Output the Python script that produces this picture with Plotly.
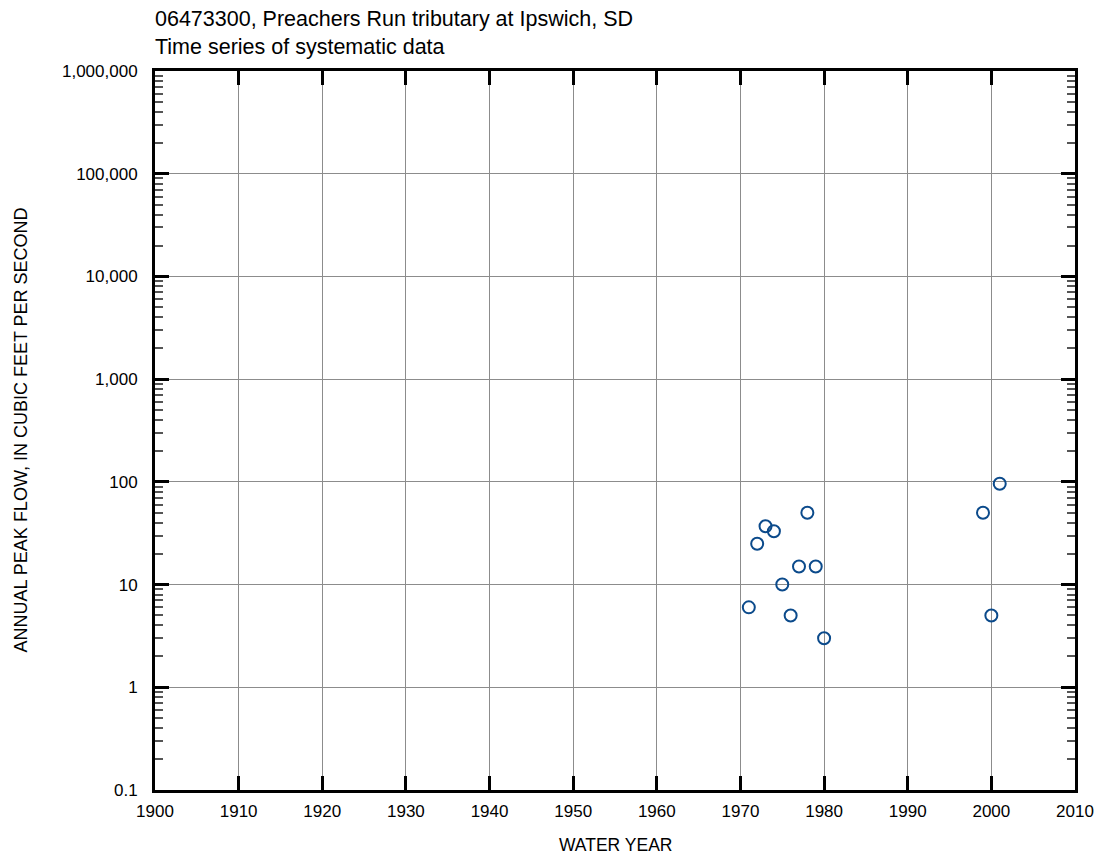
import plotly.graph_objects as go

years = [1971, 1972, 1973, 1974, 1975, 1976, 1977, 1978, 1979, 1980, 1999, 2000, 2001]
peaks = [6, 25, 37, 33, 10, 5, 15, 50, 15, 3, 50, 5, 96]

y_major = [0.1, 1, 10, 100, 1000, 10000, 100000, 1000000]
y_major_labels = ["0.1", "1", "10", "100", "1,000", "10,000", "100,000", "1,000,000"]
x_major = list(range(1900, 2011, 10))

y_minor = [m * 10 ** e for e in range(-1, 6) for m in range(2, 10)]

FONT = "Liberation Sans, Arial, sans-serif"
PLOT_W = 1102 - 155 - 27
PLOT_H = 856 - 71 - 66

fig = go.Figure()
fig.add_trace(go.Scatter(
    x=years, y=peaks, mode="markers",
    marker=dict(symbol="circle-open", size=12, color="#0B4A8B", line=dict(width=2, color="#0B4A8B")),
    showlegend=False,
))
# invisible trace to activate the minor-tick axis
fig.add_trace(go.Scatter(
    x=[years[0]], y=[peaks[0]], yaxis="y2", mode="markers",
    marker=dict(opacity=0), showlegend=False, hoverinfo="skip",
))

fig.update_layout(
    width=1102, height=856,
    margin=dict(l=155, r=27, t=71, b=66),
    plot_bgcolor="white", paper_bgcolor="white",
    font=dict(family=FONT, size=16, color="black"),
    title=dict(
        text="06473300, Preachers Run tributary at Ipswich, SD<br>Time series of systematic data",
        x=155 / 1102, xanchor="left", y=1 - 26 / 856, yanchor="top",
        font=dict(family=FONT, size=21.5, color="black"),
    ),
    xaxis=dict(
        range=[1900, 2010], tickvals=x_major, ticktext=[str(v) for v in x_major],
        ticks="inside", ticklen=14, tickwidth=2.5, tickcolor="black",
        showline=True, linecolor="black", linewidth=3, mirror="ticks",
        showgrid=True, gridcolor="#8c8c8c", gridwidth=1, zeroline=False,
        tickfont=dict(size=17), ticklabelstandoff=4, automargin=False,
    ),
    yaxis=dict(
        type="log", range=[-1, 6], tickvals=y_major, ticktext=y_major_labels,
        ticks="inside", ticklen=14, tickwidth=2.5, tickcolor="black",
        showline=True, linecolor="black", linewidth=3, mirror="ticks",
        showgrid=True, gridcolor="#8c8c8c", gridwidth=1, zeroline=False,
        tickfont=dict(size=17), ticklabelstandoff=11, automargin=False,
    ),
    yaxis2=dict(
        type="log", range=[-1, 6], overlaying="y", side="left", anchor="x",
        tickvals=y_minor, showticklabels=False,
        ticks="inside", ticklen=8, tickwidth=1.5, tickcolor="#555555",
        showline=False, mirror="ticks", showgrid=False, zeroline=False,
        automargin=False,
    ),
    annotations=[
        dict(text="WATER YEAR", xref="paper", yref="paper", x=0.5, y=-55 / PLOT_H,
             xanchor="center", yanchor="middle", showarrow=False, font=dict(size=17.5)),
        dict(text="ANNUAL PEAK FLOW, IN CUBIC FEET PER SECOND", xref="paper", yref="paper",
             x=-135 / PLOT_W, y=0.5, textangle=-90,
             xanchor="center", yanchor="middle", showarrow=False, font=dict(size=18)),
    ],
)

fig.write_html("out.html", config={"displayModeBar": False},
               post_script="document.body.style.margin='0px';")
